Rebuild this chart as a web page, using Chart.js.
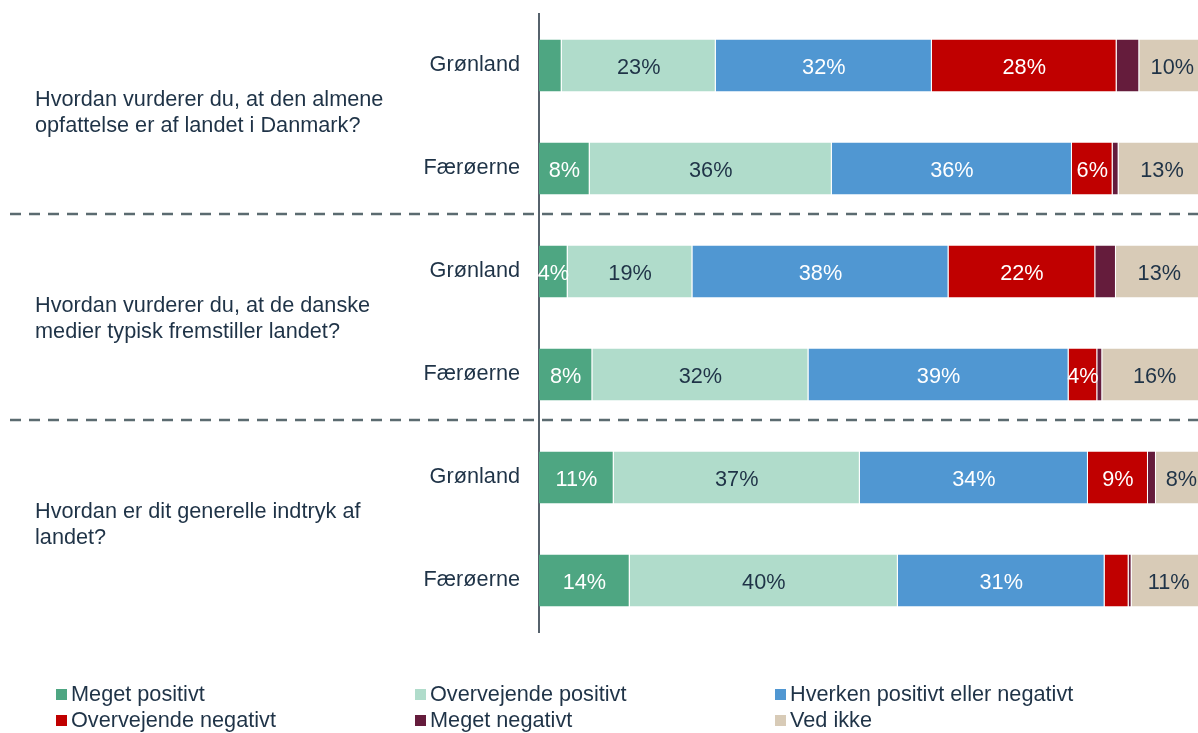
<!DOCTYPE html>
<html>
<head>
<meta charset="utf-8">
<script src="https://cdn.jsdelivr.net/npm/chart.js@4.4.1/dist/chart.umd.min.js"></script>
<style>
html,body{margin:0;padding:0;background:#fff;overflow:hidden;}
#wrap{position:relative;width:1206px;height:733px;}
#legend{position:absolute;left:0;top:681px;width:1198px;font:21.7px "Liberation Sans",Arial,sans-serif;color:#1F3347;}
.lg{position:absolute;white-space:nowrap;line-height:26px;}
.lg i{display:inline-block;width:11px;height:11px;margin-right:4px;vertical-align:1px;}
</style>
</head>
<body>
<div id="wrap">
<canvas id="c" width="1206" height="733"></canvas>
<div id="legend"></div>
</div>
<script>
const countries=['Grønland','Færøerne','Grønland','Færøerne','Grønland','Færøerne'];
const questions=[
  ['Hvordan vurderer du, at den almene','opfattelse er af landet i Danmark?'],
  ['Hvordan vurderer du, at de danske','medier typisk fremstiller landet?'],
  ['Hvordan er dit generelle indtryk af','landet?']
];
const seriesNames=['Meget positivt','Overvejende positivt','Hverken positivt eller negativt','Overvejende negativt','Meget negativt','Ved ikke'];
const megetPos=[3.4,7.6,4.3,8.0,11.2,13.6];
const overPos=[23.1,36.3,18.7,32.4,36.9,40.2];
const hverken=[32.4,36.0,38.4,39.0,34.2,31.0];
const overNeg=[27.7,6.1,22.0,4.3,9.0,3.6];
const megetNeg=[3.4,0.9,3.1,0.75,1.2,0.45];
const vedIkke=[9.9,13.0,13.0,15.7,7.6,11.1];
const colors=['#4EA682','#B0DCCB','#5097D2','#C00000','#651C3C','#D8CBB7'];
const labelColors=['#fff','#1F3347','#fff','#fff',null,'#1F3347'];
const font='"Liberation Sans",Arial,sans-serif';
const fs=21.7;

const sets=[megetPos,overPos,hverken,overNeg,megetNeg,vedIkke].map((d,i)=>({
  label:seriesNames[i],data:d,backgroundColor:colors[i],
  borderColor:'rgba(255,255,255,0.6)',borderWidth:{left:0,right:1,top:0,bottom:0},borderSkipped:false,
  barPercentage:0.505,categoryPercentage:1
}));

const extras={
  id:'extras',
  afterDatasetsDraw(chart){
    const ctx=chart.ctx,y=chart.scales.y;
    ctx.save();
    // segment labels
    ctx.font=fs+'px '+font;ctx.textAlign='center';ctx.textBaseline='middle';
    chart.data.datasets.forEach((ds,i)=>{
      if(!labelColors[i])return;
      chart.getDatasetMeta(i).data.forEach((bar,j)=>{
        const v=ds.data[j];if(v<4)return;
        ctx.fillStyle=labelColors[i];
        ctx.fillText(Math.round(v)+'%',(bar.base+bar.x)/2,bar.y+3);
      });
    });
    // question texts
    ctx.textAlign='left';ctx.fillStyle='#1F3347';
    questions.forEach((q,k)=>{
      const mid=(y.getPixelForValue(2*k)+y.getPixelForValue(2*k+1))/2-4;
      q.forEach((line,n)=>ctx.fillText(line,35,mid-13+n*26));
    });
    // dashed separators
    ctx.strokeStyle='#5B6B70';ctx.lineWidth=2.5;ctx.setLineDash([11,8]);
    [1,3].forEach(k=>{
      const yy=Math.round((y.getPixelForValue(k)+y.getPixelForValue(k+1))/2-6);
      ctx.beginPath();ctx.moveTo(10,yy);ctx.lineTo(chart.width,yy);ctx.stroke();
    });
    ctx.restore();
  }
};

new Chart(document.getElementById('c'),{
  type:'bar',
  data:{labels:countries,datasets:sets},
  options:{
    indexAxis:'y',responsive:false,animation:false,
    layout:{padding:{top:14,bottom:101,left:0,right:0}},
    plugins:{legend:{display:false},tooltip:{enabled:false}},
    scales:{
      x:{stacked:true,min:0,max:100,display:false},
      y:{stacked:true,
        grid:{display:false,drawTicks:false},
        border:{display:true,color:'#56626C',width:2},
        ticks:{color:'#1F3347',font:{size:fs,family:font,lineHeight:1.45},padding:19},
        afterFit(s){s.width=539;s.paddingTop=0;s.paddingBottom=0;}
      }
    }
  },
  plugins:[extras]
});

const lg=document.getElementById('legend');
const pos=[[56,0],[415,0],[775,0],[56,26],[415,26],[775,26]];
seriesNames.forEach((n,i)=>{
  const d=document.createElement('div');d.className='lg';
  d.style.left=pos[i][0]+'px';d.style.top=pos[i][1]+'px';
  d.innerHTML='<i style="background:'+colors[i]+'"></i>'+n;
  lg.appendChild(d);
});
</script>
</body>
</html>
